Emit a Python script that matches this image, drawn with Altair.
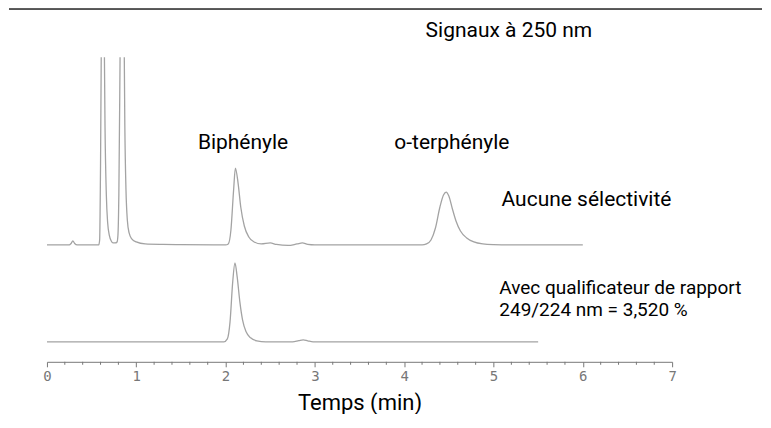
import altair as alt
import pandas as pd

# --- trace 1: "Aucune sélectivité" (signal above its own baseline) ---
t1 = [0.00, 0.25, 0.27, 0.29, 0.31, 0.34, 0.55, 0.58, 0.59, 0.600, 0.612, 0.625, 0.638, 0.650,
      0.665, 0.680, 0.700, 0.720, 0.740, 0.765, 0.785, 0.795, 0.805, 0.818, 0.830, 0.845,
      0.860, 0.872, 0.885, 0.900, 0.920, 0.950, 1.00, 1.10, 1.30, 1.50, 2.00, 2.03, 2.06,
      2.09, 2.11, 2.14, 2.17, 2.21, 2.26, 2.32, 2.40, 2.50, 2.57, 2.70, 2.80, 2.86, 2.92,
      3.00, 4.20, 4.25, 4.30, 4.35, 4.40, 4.44, 4.47, 4.50, 4.54, 4.58, 4.63, 4.70, 4.78,
      4.88, 5.00, 5.20, 6.00]
s1 = [0, 0, 1.5, 4, 1.5, 0, 0, 0, 5, 80, 250, 400, 250, 120,
      50, 22, 9, 4, 2, 2, 3, 10, 50, 180, 320, 400,
      260, 120, 55, 25, 12, 6, 3, 1, 0.5, 0.3, 0, 1, 15,
      55, 77, 62, 38, 19, 8, 3, 1, 2, 0.5, -0.5, 1, 2, 0.5,
      0, 0, 1, 5, 17, 38, 50, 53, 49, 36, 24, 14, 7, 3,
      1, 0.3, 0, 0]

# --- trace 2: "Avec qualificateur de rapport" ---
t2 = [0.00, 1.98, 2.02, 2.05, 2.08, 2.105, 2.13, 2.16, 2.19, 2.23, 2.28, 2.35, 2.45,
      2.75, 2.82, 2.87, 2.92, 2.98, 5.50]
s2 = [0, 0, 3, 20, 60, 79, 65, 40, 22, 10, 4, 1, 0,
      0, 1.2, 2, 1, 0, 0]

offset1 = 117
offset2 = 20

# annotations (time, signal level, text)
ann_t = [4.24, 1.69, 3.89, 5.09]
ann_v = [331, 219, 219, 162]
ann_text = ["Signaux à 250 nm", "Biphényle", "o-terphényle", "Aucune sélectivité"]

note_t = [5.065]
note_v = [74]
note_text = ["Avec qualificateur de rapport\n249/224 nm = 3,520 %"]

major_ticks = [0, 1, 2, 3, 4, 5, 6, 7]
minor_ticks = [round(i * 0.2, 1) for i in range(36) if i % 5 != 0]

df = pd.concat([
    pd.DataFrame({"t": t1, "v": [s + offset1 for s in s1], "trace": "A", "order": range(len(t1))}),
    pd.DataFrame({"t": t2, "v": [s + offset2 for s in s2], "trace": "B", "order": range(len(t2))}),
])
ann = pd.DataFrame({"t": ann_t, "v": ann_v, "text": ann_text})
note = pd.DataFrame({"t": note_t, "v": note_v, "text": note_text})
minor = pd.DataFrame({"t": minor_ticks})

FONT = "Roboto, Liberation Sans, sans-serif"

xscale = alt.Scale(domain=[0, 7], nice=False)
yscale = alt.Scale(domain=[0, 305], nice=False, zero=False)

lines = alt.Chart(df).mark_line(
    color="#a3a3a3", strokeWidth=1.3, interpolate="monotone", clip=True
).encode(
    x=alt.X("t:Q", scale=xscale, axis=alt.Axis(
        values=major_ticks, format="d", labelOverlap=False, labelFlush=False,
        tickSize=5, tickColor="#777", domainColor="#777", tickWidth=1, domainWidth=1,
        labelFont="DejaVu Sans Mono", labelFontSize=14, labelColor="#777",
        labelPadding=3, grid=False,
        title="Temps (min)", titleFont=FONT, titleFontSize=22, titleFontWeight="normal",
        titleColor="#000", titlePadding=9,
    )),
    y=alt.Y("v:Q", scale=yscale, axis=None),
    detail="trace:N",
    order="order:Q",
)

minor_ticks_layer = alt.Chart(minor).mark_rule(color="#777", strokeWidth=1).encode(
    x=alt.X("t:Q", scale=xscale), y=alt.value(305), y2=alt.value(308)
)

texts = alt.Chart(ann).mark_text(
    align="left", baseline="middle", font=FONT, fontSize=21, color="#000"
).encode(x=alt.X("t:Q", scale=xscale), y=alt.Y("v:Q", scale=yscale), text="text:N")

note_layer = alt.Chart(note).mark_text(
    align="left", baseline="middle", font=FONT, fontSize=19, color="#000",
    lineBreak="\n", lineHeight=22
).encode(x=alt.X("t:Q", scale=xscale), y=alt.Y("v:Q", scale=yscale), text="text:N")

toprule = alt.Chart(ann).mark_rule(color="#555", strokeWidth=1.5).encode(
    x=alt.value(-38), x2=alt.value(716), y=alt.value(-48)
)

chart = alt.layer(lines, minor_ticks_layer, texts, note_layer, toprule).properties(
    width=626, height=305, padding=0
).configure_view(stroke=None)

chart.save("out.html", embed_options={"renderer": "svg", "actions": False})
